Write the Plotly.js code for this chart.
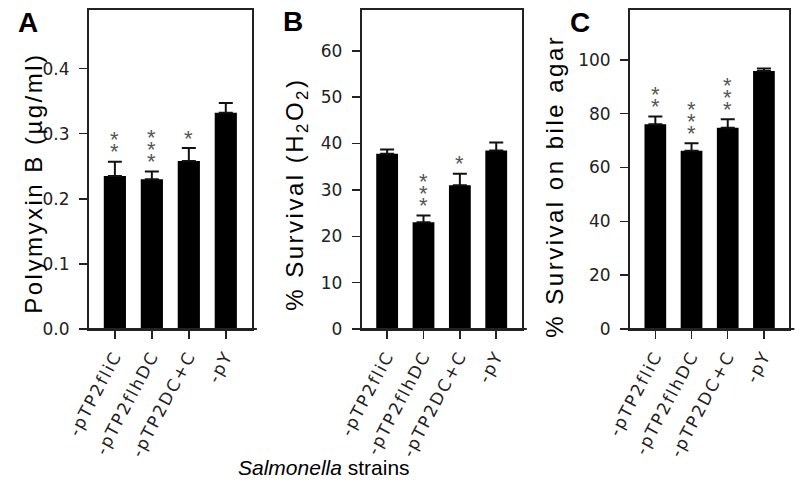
<!DOCTYPE html>
<html><head><meta charset="utf-8">
<script src="https://cdn.plot.ly/plotly-3.0.1.min.js"></script>
<style>
html,body{margin:0;padding:0;background:#fff;}
#chart{width:800px;height:488px;}
.xtick text,.x2tick text,.x3tick text{letter-spacing:2px;}
g.annotation[data-index="0"] text,g.annotation[data-index="1"] text,g.annotation[data-index="2"] text{letter-spacing:2.5px;}
</style></head><body><div id="chart"></div>
<script>
// ---- data ----
const strains = ["-pTP2fliC", "-pTP2flhDC", "-pTP2DC+C", "-pY"];
const polymyxinB = [0.235, 0.230, 0.258, 0.332];
const polymyxinB_sem = [0.022, 0.012, 0.020, 0.015];
const survivalH2O2 = [37.8, 23.0, 31.0, 38.5];
const survivalH2O2_sem = [0.9, 1.5, 2.5, 1.7];
const survivalBile = [76.1, 66.2, 74.8, 95.8];
const survivalBile_sem = [2.8, 2.8, 3.1, 1.0];
const starsA = [2, 3, 1, 0];
const starsB = [0, 3, 1, 0];
const starsC = [2, 3, 3, 0];
const yTicksA = [0, 0.1, 0.2, 0.3, 0.4];
const yTicksB = [0, 10, 20, 30, 40, 50, 60];
const yTicksC = [0, 20, 40, 60, 80, 100];
const yTitleA = "Polymyxin B (µg/ml)";
const yTitleB = "% Survival (H<sub>2</sub>O<sub>2</sub>)";
const yTitleC = "% Survival on bile agar";
const xTitle = "<i>Salmonella</i> strains";
const panelLetters = ["A", "B", "C"];

// ---- styling ----
const LINE = '#222';
const tickFont = {family: 'DejaVu Sans, sans-serif', size: 17, color: '#222'};
const yTickFont = {family: 'DejaVu Sans, sans-serif', size: 17, color: '#222'};
const titleFamily = 'Liberation Sans, Arial, sans-serif';

function barTrace(vals, sem, xa, ya) {
  return {
    type: 'bar', x: strains, y: vals, xaxis: xa, yaxis: ya,
    marker: {color: '#000', line: {width: 0}},
    error_y: {type: 'data', symmetric: false, array: sem, arrayminus: sem.map(() => 0),
              color: '#111', thickness: 2, width: 7},
    hoverinfo: 'skip'
  };
}
const data = [
  barTrace(polymyxinB, polymyxinB_sem, 'x', 'y'),
  barTrace(survivalH2O2, survivalH2O2_sem, 'x2', 'y2'),
  barTrace(survivalBile, survivalBile_sem, 'x3', 'y3')
];

function xAxis(domain, anchor) {
  return {domain: domain, anchor: anchor, type: 'category', range: [-0.7, 3.7],
    showline: true, linecolor: LINE, linewidth: 2, mirror: true,
    ticks: 'outside', ticklen: 8, tickwidth: 1.5, tickcolor: LINE,
    tickangle: -62, tickfont: tickFont, showgrid: false, zeroline: false, fixedrange: true};
}
function yAxis(range, tickvals, anchor, fmt) {
  return {domain: [0, 1], anchor: anchor, range: range, tickmode: 'array', tickvals: tickvals,
    tickformat: fmt, showline: true, linecolor: LINE, linewidth: 2, mirror: true,
    ticks: 'outside', ticklen: 8, tickwidth: 1.5, tickcolor: LINE, tickfont: yTickFont,
    ticklabelstandoff: 6,
    showgrid: false, zeroline: false, fixedrange: true};
}

const annotations = [
  {xref: 'paper', yref: 'paper', x: 0.041, y: 0.457, text: yTitleA, textangle: -90, showarrow: false,
   font: {family: titleFamily, size: 24, color: '#000'}, xanchor: 'center', yanchor: 'middle'},
  {xref: 'paper', yref: 'paper', x: 0.371, y: 0.424, text: yTitleB, textangle: -90, showarrow: false,
   font: {family: titleFamily, size: 24, color: '#000'}, xanchor: 'center', yanchor: 'middle'},
  {xref: 'paper', yref: 'paper', x: 0.694, y: 0.446, text: yTitleC, textangle: -90, showarrow: false,
   font: {family: titleFamily, size: 24, color: '#000'}, xanchor: 'center', yanchor: 'middle'},
  {xref: 'paper', yref: 'paper', x: 0.405, y: -0.434, text: xTitle, showarrow: false,
   font: {family: titleFamily, size: 21, color: '#000'}, xanchor: 'center', yanchor: 'middle'}
];
const letterPos = [[0.0344, 0.962], [0.366, 0.964], [0.725, 0.962]];
panelLetters.forEach((L, i) => annotations.push({
  xref: 'paper', yref: 'paper', x: letterPos[i][0], y: letterPos[i][1], text: '<b>' + L + '</b>',
  showarrow: false, font: {family: titleFamily, size: 28, color: '#000'}, xanchor: 'center', yanchor: 'middle'}));

function addStars(vals, sem, stars, suffix) {
  vals.forEach((v, i) => {
    for (let k = 0; k < stars[i]; k++) {
      annotations.push({xref: 'x' + suffix, yref: 'y' + suffix, x: strains[i], y: v + sem[i],
        yshift: 10 + 12 * k, text: '*', showarrow: false,
        font: {family: titleFamily, size: 22, color: '#555'}, xanchor: 'center', yanchor: 'middle'});
    }
  });
}
addStars(polymyxinB, polymyxinB_sem, starsA, '');
addStars(survivalH2O2, survivalH2O2_sem, starsB, '2');
addStars(survivalBile, survivalBile_sem, starsC, '3');

function baseExt(xd, yd) {
  return {type: 'line', xref: xd, yref: yd, x0: -0.034, x1: 1.032, y0: 0, y1: 0,
          line: {color: LINE, width: 2}};
}

const layout = {
  width: 800, height: 488,
  margin: {l: 0, r: 0, t: 10, b: 158.7},
  paper_bgcolor: '#fff', plot_bgcolor: '#fff',
  showlegend: false, bargap: 0.4,
  xaxis: xAxis([0.11125, 0.3146], 'y'),
  xaxis2: xAxis([0.4521, 0.6521], 'y2'),
  xaxis3: xAxis([0.7875, 0.9866], 'y3'),
  yaxis: yAxis([0, 0.49], yTicksA, 'x', '.1f'),
  yaxis2: yAxis([0, 68.8], yTicksB, 'x2', ''),
  yaxis3: yAxis([0, 118.5], yTicksC, 'x3', ''),
  annotations: annotations,
  shapes: [baseExt('x domain', 'y domain'), baseExt('x2 domain', 'y2 domain'), baseExt('x3 domain', 'y3 domain')]
};

Plotly.newPlot('chart', data, layout, {displayModeBar: false, staticPlot: true});
</script></body></html>
